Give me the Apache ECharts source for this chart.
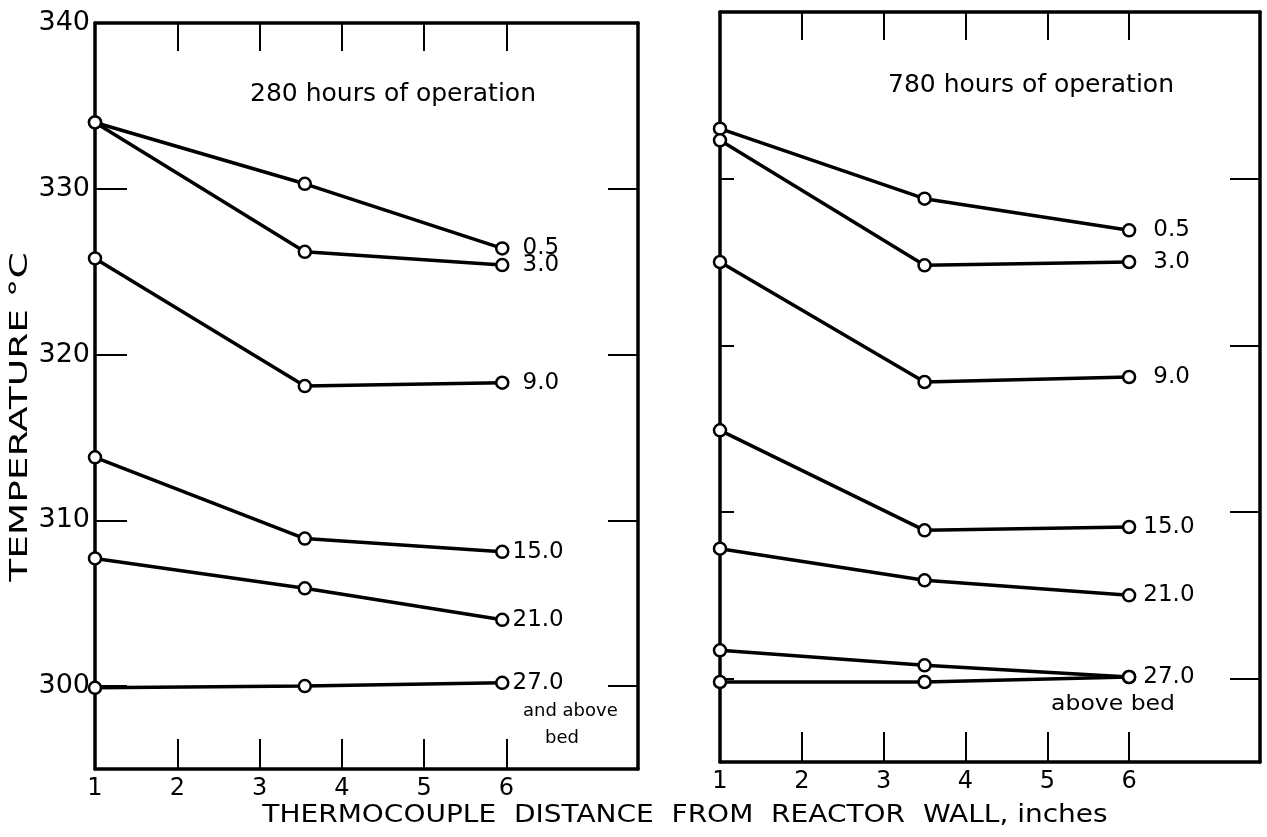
<!DOCTYPE html>
<html>
<head>
<meta charset="utf-8">
<script src="https://cdn.jsdelivr.net/npm/echarts@6/dist/echarts.min.js"></script>
<style>
html,body{margin:0;padding:0;background:#fff;}
#chart{width:1267px;height:837px;}
</style>
</head>
<body>
<div id="chart"></div>
<script>
// ---- data ----
const xTickLabels = [1, 2, 3, 4, 5, 6];
const xInnerTicks = [2, 3, 4, 5, 6];
const yTickLabels = [300, 310, 320, 330, 340];
const yInnerTicks = [300, 310, 320, 330];

const xLeft = [1, 3.55, 5.95];
const left05 = [334.0, 330.3, 326.4];
const left30 = [334.0, 326.2, 325.4];
const left90 = [325.8, 318.1, 318.3];
const left150 = [313.8, 308.9, 308.1];
const left210 = [307.7, 305.9, 304.0];
const left270 = [299.9, 300.0, 300.2];

const xRight = [1, 3.5, 6.0];
const right05 = [333.0, 328.8, 326.9];
const right30 = [332.3, 324.8, 325.0];
const right90 = [325.0, 317.8, 318.1];
const right150 = [314.9, 308.9, 309.1];
const right210 = [307.8, 305.9, 305.0];
const right270 = [301.7, 300.8, 300.1];
const rightBed = [299.8, 299.8, 300.1];

const leftSeries = [
  {name: '0.5', y: left05}, {name: '3.0', y: left30}, {name: '9.0', y: left90},
  {name: '15.0', y: left150}, {name: '21.0', y: left210}, {name: '27.0', y: left270}
];
const rightSeries = [
  {name: '0.5', y: right05}, {name: '3.0', y: right30}, {name: '9.0', y: right90},
  {name: '15.0', y: right150}, {name: '21.0', y: right210}, {name: '27.0', y: right270},
  {name: '', y: rightBed}
];

const FONT = 'DejaVu Sans';
const INK = '#000';

function xAxes(gridIndex) {
  const base = {
    type: 'value', gridIndex: gridIndex, min: 1, max: 7.6, interval: 1,
    axisLine: {show: true, onZero: false, lineStyle: {color: INK, width: 3.5}},
    splitLine: {show: false}
  };
  return [
    Object.assign({}, base, {
      position: 'bottom',
      axisTick: {show: true, inside: true, length: 30, customValues: xInnerTicks, lineStyle: {color: INK, width: 2}},
      axisLabel: {show: true, customValues: xTickLabels, color: INK, fontFamily: FONT, fontSize: 24, margin: 8,
        formatter: v => String(v)}
    }),
    Object.assign({}, base, {
      position: 'top',
      axisTick: {show: true, inside: true, length: 28, customValues: xInnerTicks, lineStyle: {color: INK, width: 2}},
      axisLabel: {show: false}
    })
  ];
}

function yAxes(gridIndex, showLabels, leftTickLen) {
  const base = {
    type: 'value', gridIndex: gridIndex, min: 295, max: 340, interval: 5,
    axisLine: {show: true, onZero: false, lineStyle: {color: INK, width: 3.5}},
    splitLine: {show: false}
  };
  return [
    Object.assign({}, base, {
      position: 'left',
      axisTick: {show: true, inside: true, length: leftTickLen, customValues: yInnerTicks, lineStyle: {color: INK, width: 2}},
      axisLabel: {show: showLabels, customValues: yTickLabels, color: INK, fontFamily: FONT, fontSize: 27, margin: 5,
        formatter: v => String(v)}
    }),
    Object.assign({}, base, {
      position: 'right',
      axisTick: {show: true, inside: true, length: 30, customValues: yInnerTicks, lineStyle: {color: INK, width: 2}},
      axisLabel: {show: false}
    })
  ];
}

function makeSeries(list, xs, gridIdx, labelDist) {
  return list.map(s => ({
    type: 'line',
    xAxisIndex: gridIdx * 2,
    yAxisIndex: gridIdx * 2,
    symbol: 'circle',
    symbolSize: 12,
    showSymbol: true,
    silent: true,
    animation: false,
    lineStyle: {color: INK, width: 3.5},
    itemStyle: {color: '#fff', borderColor: INK, borderWidth: 2.5},
    z: 3,
    data: s.y.map((v, i) => {
      const item = {value: [xs[i], v]};
      if (i === s.y.length - 1 && s.name) {
        item.label = {show: true, position: 'right', distance: labelDist(s.name), formatter: s.name,
          color: INK, fontFamily: FONT, fontSize: 23};
      }
      return item;
    })
  }));
}

const chart = echarts.init(document.getElementById('chart'), null, {renderer: 'canvas'});
const xs = xAxes(0).concat(xAxes(1));
const ys = yAxes(0, true, 32).concat(yAxes(1, false, 14));

chart.setOption({
  backgroundColor: '#fff',
  animation: false,
  grid: [
    {left: 95, top: 23, width: 543, height: 746},
    {left: 720, top: 12, width: 540, height: 750}
  ],
  xAxis: xs,
  yAxis: ys,
  series: makeSeries(leftSeries, xLeft, 0, n => (n.length > 3 ? 3 : 13))
    .concat(makeSeries(rightSeries, xRight, 1, n => (n.length > 3 ? 7 : 17))),
  graphic: [
    {type: 'text', left: 250, top: 82, style: {text: '280 hours of operation', fontFamily: FONT, fontSize: 25, fill: INK}},
    {type: 'text', left: 888, top: 73, style: {text: '780 hours of operation', fontFamily: FONT, fontSize: 25, fill: INK}},
    {type: 'text', left: 523, top: 702, style: {text: 'and above', fontFamily: FONT, fontSize: 18, fill: INK}},
    {type: 'text', left: 545, top: 729, style: {text: 'bed', fontFamily: FONT, fontSize: 18, fill: INK}},
    {type: 'text', x: 1113, y: 705, scaleX: 1.12,
      style: {text: 'above bed', fontFamily: FONT, fontSize: 21, fill: INK, align: 'center', verticalAlign: 'middle'}},
    {type: 'text', x: 20, y: 417, rotation: Math.PI / 2, scaleX: 1.5,
      style: {text: 'TEMPERATURE °C', fontFamily: FONT, fontSize: 25, fill: INK, align: 'center', verticalAlign: 'middle'}},
    {type: 'text', x: 685, y: 815, scaleX: 1.12,
      style: {text: 'THERMOCOUPLE  DISTANCE  FROM  REACTOR  WALL, inches', fontFamily: FONT, fontSize: 25, fill: INK, align: 'center', verticalAlign: 'middle'}}
  ]
});
</script>
</body>
</html>
